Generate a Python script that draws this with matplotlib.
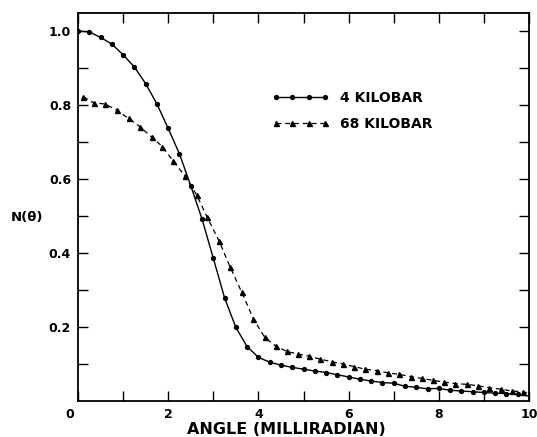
import matplotlib
matplotlib.use('Agg')
import matplotlib.pyplot as plt
import numpy as np

# 4 kilobar (solid line, circles); last value is where the drawn curve meets the axis edge
x_4kb = [0.0, 0.25, 0.5, 0.75, 1.0, 1.25, 1.5, 1.75, 2.0, 2.25, 2.5, 2.75, 3.0, 3.25,
         3.5, 3.75, 4.0, 4.25, 4.5, 4.75, 5.0, 5.25, 5.5, 5.75, 6.0, 6.25, 6.5, 6.75,
         7.0, 7.25, 7.5, 7.75, 8.0, 8.25, 8.5, 8.75, 9.0, 9.25, 9.5, 9.75, 10.0]
n_4kb = [1.000, 0.998, 0.983, 0.965, 0.936, 0.903, 0.858, 0.803, 0.737, 0.668, 0.582,
         0.492, 0.386, 0.279, 0.199, 0.147, 0.118, 0.105, 0.097, 0.091, 0.086, 0.081,
         0.077, 0.071, 0.065, 0.059, 0.054, 0.050, 0.048, 0.040, 0.037, 0.033, 0.034,
         0.029, 0.027, 0.025, 0.023, 0.021, 0.020, 0.018, 0.013]

# 68 kilobar (dashed line, triangles)
x_68kb = [0.12, 0.35, 0.6, 0.86, 1.12, 1.37, 1.63, 1.87, 2.11, 2.38, 2.63, 2.86, 3.13,
          3.37, 3.63, 3.89, 4.14, 4.38, 4.63, 4.88, 5.13, 5.37, 5.63, 5.88, 6.12, 6.37,
          6.62, 6.88, 7.12, 7.38, 7.62, 7.87, 8.12, 8.37, 8.62, 8.88, 9.12, 9.37, 9.62,
          9.87, 10.0]
n_68kb = [0.822, 0.806, 0.803, 0.786, 0.764, 0.742, 0.714, 0.688, 0.649, 0.607, 0.557,
          0.498, 0.432, 0.363, 0.294, 0.222, 0.172, 0.149, 0.134, 0.127, 0.121, 0.113,
          0.106, 0.100, 0.093, 0.086, 0.082, 0.076, 0.072, 0.066, 0.061, 0.056, 0.051,
          0.047, 0.045, 0.041, 0.036, 0.032, 0.027, 0.025, 0.021]

labels = ['4 KILOBAR', '68 KILOBAR']
x_ticks = [2, 4, 6, 8, 10]
y_ticks = [0.2, 0.4, 0.6, 0.8, 1.0]


def main():
	plt.rcParams['font.family'] = 'DejaVu Sans'
	plt.rcParams['font.weight'] = 'bold'
	fig = plt.figure(figsize=(5.37, 4.37), dpi=100)
	ax = fig.add_axes([78/537, 1 - 401/437, 451/537, 388/437])

	ax.plot(x_4kb, n_4kb, '-', color='black', lw=1.0, marker='o', ms=2.8,
	        markevery=slice(0, -1), label=labels[0])
	ax.plot(x_68kb, n_68kb, color='black', lw=0.9, ls=(0, (4, 3)), marker='^', ms=3.6,
	        markevery=slice(0, -1), label=labels[1])

	ax.set_xlim(0, 10)
	ax.set_ylim(0, 1.049)

	ax.set_xticks(np.arange(0, 11, 1), minor=True)
	ax.set_xticks(x_ticks)
	ax.set_xticklabels([str(t) for t in x_ticks])
	ax.set_yticks(np.arange(0.1, 1.05, 0.1), minor=True)
	ax.set_yticks(y_ticks)
	ax.set_yticklabels(['%.1f' % t for t in y_ticks])

	ax.tick_params(which='both', direction='in', top=True, right=True, width=1.0)
	ax.tick_params(which='major', length=7, labelsize=9, pad=5)
	ax.tick_params(which='minor', length=7)
	for s in ax.spines.values():
		s.set_linewidth(1.3)

	# shared corner zero
	ax.annotate('0', xy=(0, 0), xytext=(-8, -7), textcoords='offset pixels',
	            ha='center', va='top', fontsize=9)

	fig.text(27/537, 1 - 217/437, 'N(θ)', ha='center', va='center', fontsize=9.5)
	fig.text(286/537, 1 - 429/437, 'ANGLE (MILLIRADIAN)', ha='center', va='center', fontsize=11.5)

	ax.legend(loc='upper left', bbox_to_anchor=(194/451, 0.80), frameon=False,
	          numpoints=4, handlelength=4.1, handletextpad=0.8, labelspacing=0.9,
	          borderpad=0, borderaxespad=0, fontsize=10)

	fig.savefig('out.png', dpi=100)


if __name__ == '__main__':
	main()
